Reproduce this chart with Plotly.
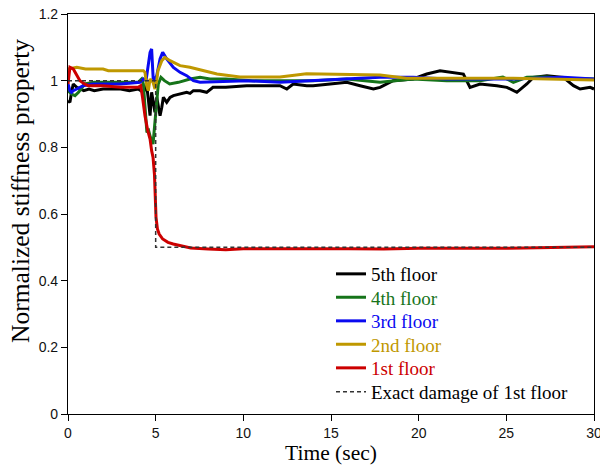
import plotly.graph_objects as go

# ---- data ----
t5 = [0, 0.11, 0.2, 0.3, 0.5, 0.68, 0.9, 1.2, 1.5, 2.0, 2.4, 3.0, 3.5, 4.0, 4.3, 4.49, 4.58, 4.68, 4.77, 4.87, 4.96, 5.06, 5.15, 5.25, 5.35, 5.44, 5.63, 5.82, 6.01, 6.39, 6.77, 6.96, 7.15, 7.53, 7.91, 8.27, 9.0, 10.19, 11.0, 12.09, 12.48, 12.84, 13.62, 13.98, 14.95, 15.9, 16.66, 17.42, 17.8, 18.54, 19.68, 20.46, 21.22, 21.96, 22.55, 22.93, 23.5, 24.46, 25.03, 25.6, 26.17, 26.54, 27.31, 28.25, 28.83, 29.21, 29.78, 30]
v5 = [0.94, 0.935, 0.965, 0.99, 0.98, 0.975, 0.97, 0.975, 0.97, 0.975, 0.975, 0.975, 0.97, 0.975, 0.965, 0.985, 0.945, 0.895, 0.965, 0.925, 0.905, 0.95, 0.925, 0.895, 0.92, 0.95, 0.935, 0.95, 0.955, 0.96, 0.965, 0.962, 0.97, 0.97, 0.965, 0.98, 0.98, 0.985, 0.985, 0.985, 0.975, 0.99, 0.985, 0.985, 0.99, 0.995, 0.985, 0.975, 0.98, 1.0, 1.005, 1.02, 1.03, 1.025, 1.02, 0.98, 0.99, 0.985, 0.98, 0.965, 0.99, 1.01, 1.015, 1.01, 0.985, 0.975, 0.98, 0.975]

t4 = [0, 0.2, 0.4, 0.6, 0.95, 1.5, 2.0, 3.0, 4.0, 4.2, 4.3, 4.38, 4.45, 4.5, 4.6, 4.7, 4.85, 4.95, 5.05, 5.15, 5.3, 5.5, 5.8, 6.3, 6.96, 7.53, 8.1, 9.0, 10.5, 12.09, 14.0, 15.9, 17.8, 19.68, 21.6, 23.5, 24.8, 25.4, 26.17, 27.0, 27.31, 28.25, 30]
v4 = [0.97, 0.96, 0.955, 0.965, 0.99, 0.995, 0.995, 0.995, 0.995, 1.005, 0.99, 0.93, 0.87, 0.845, 0.85, 0.83, 0.81, 0.86, 0.93, 0.99, 1.01, 1.0, 0.99, 0.995, 1.005, 1.01, 1.005, 1.005, 1.0, 1.0, 1.0, 1.005, 0.995, 1.005, 1.0, 1.0, 1.011, 0.995, 1.01, 1.011, 1.011, 1.007, 1.005]

t3 = [0, 0.11, 0.2, 0.3, 0.5, 0.86, 1.43, 2.0, 3.0, 4.11, 4.3, 4.45, 4.58, 4.68, 4.77, 4.87, 5.06, 5.25, 5.4, 5.63, 6.01, 6.39, 6.77, 7.15, 7.53, 10.19, 12.09, 13.98, 15.9, 17.8, 19.68, 21.6, 23.5, 25.4, 28.25, 30]
v3 = [0.99, 0.97, 0.965, 0.97, 0.975, 0.985, 0.99, 0.99, 0.99, 0.995, 1.005, 1.0, 1.05, 1.085, 1.095, 0.995, 1.015, 1.065, 1.085, 1.065, 1.04, 1.025, 1.015, 1.0, 0.995, 1.0, 0.995, 1.0, 1.005, 1.01, 1.01, 1.005, 1.005, 1.005, 1.01, 1.005]

t2 = [0, 0.5, 1.0, 2.0, 2.3, 3.0, 4.0, 4.3, 4.39, 4.49, 4.58, 4.68, 4.85, 4.96, 5.06, 5.13, 5.35, 5.53, 5.82, 6.39, 6.95, 7.53, 8.5, 9.81, 12.09, 13.6, 15.9, 17.8, 19.3, 21.6, 25.4, 30]
v2 = [1.035, 1.04, 1.035, 1.035, 1.03, 1.03, 1.03, 1.03, 1.025, 0.985, 0.97, 1.005, 0.995, 0.975, 1.0, 1.03, 1.06, 1.07, 1.06, 1.045, 1.04, 1.033, 1.02, 1.011, 1.011, 1.021, 1.02, 1.017, 1.007, 1.007, 1.007, 1.002]

t1 = [0, 0.11, 0.3, 0.5, 0.68, 0.95, 1.15, 2.0, 3.0, 4.0, 4.15, 4.25, 4.39, 4.55, 4.68, 4.77, 4.85, 4.93, 4.98, 5.02, 5.1, 5.2, 5.4, 5.7, 6.0, 6.5, 7.0, 8.0, 9.0, 10.0, 12.0, 14.0, 16.0, 18.0, 20.0, 22.0, 24.0, 26.0, 28.0, 30.0]
v1 = [0.99, 1.04, 1.035, 1.015, 1.0, 0.99, 0.985, 0.985, 0.98, 0.98, 0.985, 0.95, 0.895, 0.85, 0.825, 0.79, 0.77, 0.72, 0.66, 0.59, 0.555, 0.54, 0.525, 0.515, 0.51, 0.503, 0.498, 0.495, 0.493, 0.496, 0.497, 0.496, 0.496, 0.495, 0.497, 0.496, 0.497, 0.498, 0.499, 0.502]

t_exact = [0, 5.0, 5.0, 30]
v_exact = [1.0, 1.0, 0.5, 0.5]

names = ["5th floor", "4th floor", "3rd floor", "2nd floor", "1st floor"]
colors = ["#000000", "#16741a", "#0a0af0", "#bf9800", "#cc0000"]
series_t = [t5, t4, t3, t2, t1]
series_v = [v5, v4, v3, v2, v1]

x_ticks = [0, 5, 10, 15, 20, 25, 30]
y_ticks = [0, 0.2, 0.4, 0.6, 0.8, 1.0, 1.2]

# layout geometry (page pixels)
L, R, T, B = 68, 6, 14, 54
W, H = 600, 468
PW, PH = W - L - R, H - T - B
legend_rows_px = [274, 297.5, 321, 344.5, 368, 392]
legend_left_px = 331

SERIF = "Liberation Serif, Times New Roman, serif"
SANS = "Liberation Sans, Arial, sans-serif"

fig = go.Figure()
for i, (n, c, tt, vv) in enumerate(zip(names, colors, series_t, series_v)):
    fig.add_trace(go.Scatter(
        x=tt, y=vv, mode="lines",
        line=dict(color=c, width=3),
        name=f"<span style='color:{c}'>{n}</span>",
        legend="legend" if i == 0 else f"legend{i+1}",
    ))
fig.add_trace(go.Scatter(
    x=t_exact, y=v_exact, mode="lines",
    line=dict(color="#333333", width=1.5, dash="4px,3px"),
    name="Exact damage of 1st floor",
    legend="legend6",
))

legends = {}
for i, yc in enumerate(legend_rows_px):
    key = "legend" if i == 0 else f"legend{i+1}"
    legends[key] = dict(
        x=(legend_left_px - L) / PW, y=(H - B - yc) / PH,
        xanchor="left", yanchor="middle",
        bgcolor="rgba(0,0,0,0)", borderwidth=0,
        font=dict(family=SERIF, size=19, color="#000"),
        itemwidth=30,
    )

fig.update_layout(
    width=W, height=H,
    margin=dict(l=L, r=R, t=T, b=B, autoexpand=False),
    paper_bgcolor="white", plot_bgcolor="white",
    showlegend=True,
    **legends,
    xaxis=dict(
        range=[0, 30], tickvals=x_ticks,
        showline=True, linecolor="#000", linewidth=1.2, mirror=True,
        ticks="outside", ticklen=6, tickcolor="#000",
        showgrid=False, zeroline=False, ticklabeloverflow="allow",
        tickfont=dict(family=SANS, size=14, color="#111"),
        title=dict(text="Time (sec)", standoff=4,
                   font=dict(family=SERIF, size=21.5, color="#000")),
    ),
    yaxis=dict(
        range=[0, 1.2], tickvals=y_ticks,
        showline=True, linecolor="#000", linewidth=1.2, mirror=True,
        ticks="outside", ticklen=6, tickcolor="#000",
        showgrid=False, zeroline=False,
        tickfont=dict(family=SANS, size=14, color="#111"),
    ),
    annotations=[dict(
        text="Normalized stiffness property", textangle=-90,
        xref="paper", yref="paper",
        x=(20 - L) / PW, y=(H - B - 191) / PH,
        xanchor="center", yanchor="middle", showarrow=False,
        font=dict(family=SERIF, size=25.5, color="#000"),
    )],
)

fig.write_html(
    "out.html",
    config={"displayModeBar": False},
    post_script="document.body.style.margin='0px';document.body.style.overflow='hidden';",
)
